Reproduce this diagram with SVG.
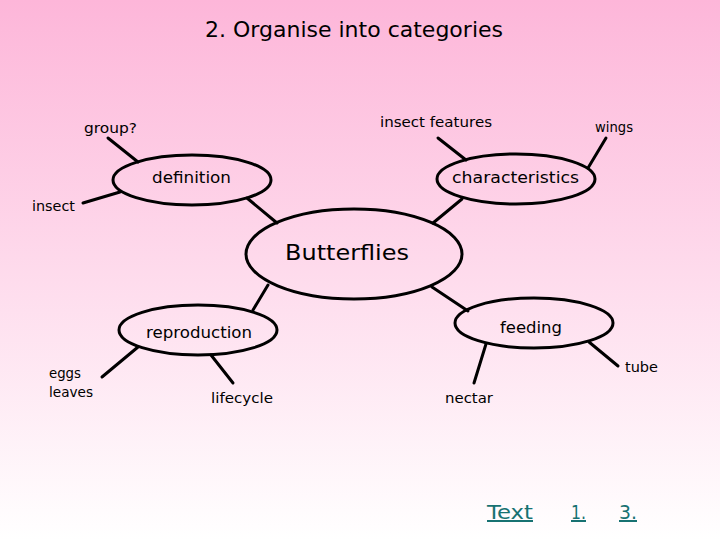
<svg xmlns="http://www.w3.org/2000/svg" width="720" height="540" viewBox="0 0 720 540">
<defs>
<linearGradient id="bg" x1="0" y1="0" x2="0" y2="1">
<stop offset="0" stop-color="#fdb6d9"/>
<stop offset="1" stop-color="#ffffff"/>
</linearGradient>
<style>
text{font-family:"DejaVu Sans","Liberation Sans",sans-serif;fill:#000}
.sm{font-size:14px}
.md{font-size:16px}
.lg{font-size:22px}
.lnk{font-size:20px;fill:#177272;text-decoration:underline}
ellipse{fill:none;stroke:#000;stroke-width:3}
#connectors line{stroke:#000;stroke-width:3;stroke-linecap:round}
</style>
</defs>
<rect width="720" height="540" fill="url(#bg)"/>
<text class="lg" x="205" y="37" textLength="298" lengthAdjust="spacingAndGlyphs">2. Organise into categories</text>
<g id="connectors">
<line x1="108" y1="138" x2="138" y2="162"/>
<line x1="83" y1="203" x2="120" y2="192"/>
<line x1="247" y1="198" x2="277" y2="223"/>
<line x1="438" y1="138" x2="466" y2="160"/>
<line x1="606" y1="138" x2="588" y2="168"/>
<line x1="462" y1="199" x2="433" y2="223"/>
<line x1="268" y1="285" x2="253" y2="310"/>
<line x1="102" y1="377" x2="138" y2="347"/>
<line x1="211" y1="355" x2="233" y2="383"/>
<line x1="432" y1="287" x2="468" y2="311"/>
<line x1="486" y1="344" x2="474" y2="383"/>
<line x1="589" y1="342" x2="618" y2="366"/>
</g>
<g id="butterflies">
<ellipse cx="354" cy="254" rx="108" ry="45"/>
<text class="lg" x="285" y="260" textLength="124" lengthAdjust="spacingAndGlyphs">Butterflies</text>
</g>
<g id="definition">
<ellipse cx="192" cy="180" rx="79" ry="25"/>
<text class="md" x="152" y="183" textLength="79" lengthAdjust="spacingAndGlyphs">definition</text>
</g>
<g id="characteristics">
<ellipse cx="516" cy="179" rx="79" ry="25"/>
<text class="md" x="452" y="183" textLength="127" lengthAdjust="spacingAndGlyphs">characteristics</text>
</g>
<g id="reproduction">
<ellipse cx="198" cy="330" rx="79" ry="25"/>
<text class="md" x="146" y="338" textLength="106" lengthAdjust="spacingAndGlyphs">reproduction</text>
</g>
<g id="feeding">
<ellipse cx="534" cy="323" rx="79" ry="25"/>
<text class="md" x="500" y="333" textLength="62" lengthAdjust="spacingAndGlyphs">feeding</text>
</g>
<g id="group"><text class="sm" x="84" y="133" textLength="53" lengthAdjust="spacingAndGlyphs">group?</text></g>
<g id="insect"><text class="sm" x="32" y="211" textLength="43" lengthAdjust="spacingAndGlyphs">insect</text></g>
<g id="insect-features"><text class="sm" x="380" y="127" textLength="112" lengthAdjust="spacingAndGlyphs">insect features</text></g>
<g id="wings"><text class="sm" x="595" y="132" textLength="38" lengthAdjust="spacingAndGlyphs">wings</text></g>
<g id="eggs-leaves">
<text class="sm" x="49" y="378" textLength="32" lengthAdjust="spacingAndGlyphs">eggs</text>
<text class="sm" x="49" y="397" textLength="44" lengthAdjust="spacingAndGlyphs">leaves</text>
</g>
<g id="lifecycle"><text class="sm" x="211" y="403" textLength="62" lengthAdjust="spacingAndGlyphs">lifecycle</text></g>
<g id="nectar"><text class="sm" x="445" y="403" textLength="48" lengthAdjust="spacingAndGlyphs">nectar</text></g>
<g id="tube"><text class="sm" x="625" y="372" textLength="33" lengthAdjust="spacingAndGlyphs">tube</text></g>
<g id="links">
<text class="lnk" x="487" y="519" textLength="46" lengthAdjust="spacingAndGlyphs">Text</text>
<text class="lnk" x="571" y="519" textLength="15" lengthAdjust="spacingAndGlyphs">1.</text>
<text class="lnk" x="619" y="519" textLength="18" lengthAdjust="spacingAndGlyphs">3.</text>
</g>
</svg>
